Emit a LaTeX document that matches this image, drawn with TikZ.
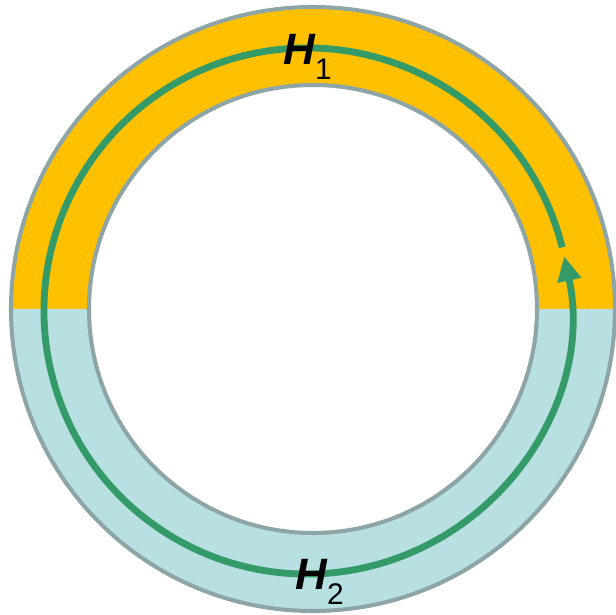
\documentclass[tikz,border=0pt]{standalone}
\usepackage{fontspec}
\setmainfont{Liberation Sans}
\usetikzlibrary{arrows.meta}
\definecolor{ringtop}{HTML}{FFC000}
\definecolor{ringbot}{HTML}{B8DFE2}
\definecolor{ringedge}{HTML}{8EA5A8}
\definecolor{loopgreen}{HTML}{349B68}
\newcommand{\hlab}[1]{{\fontsize{25}{25}\selectfont\bfseries\itshape H}\raisebox{-8.5pt}{\fontsize{17}{17}\selectfont #1}}
\begin{document}
\begin{tikzpicture}[x=0.02cm,y=0.02cm, edge/.style={draw=ringedge,line width=2.3pt}, loopline/.style={draw=loopgreen,line width=3.9pt}, hname/.style={inner sep=0pt,anchor=base west}]
\useasboundingbox (-313,-306) rectangle (303,309);
\fill[ringtop] (302,0) arc[start angle=0,end angle=180,radius=302] -- (-224,0) arc[start angle=180,end angle=0,radius=224] -- cycle;
\fill[ringbot] (302,0) arc[start angle=0,end angle=-180,radius=302] -- (-224,0) arc[start angle=-180,end angle=0,radius=224] -- cycle;
\draw[edge] (0,0) circle[radius=302];
\draw[edge] (0,0) circle[radius=224];
\draw[loopline,-{Triangle[length=14pt,width=13pt]}] ([shift={(14:263)}]-6,-2) arc[start angle=14,end angle=372,radius=263];
\node[hname] (h1) at (-30,244) {\hlab{1}};
\node[hname] (h2) at (-18,-281) {\hlab{2}};
\end{tikzpicture}
\end{document}
